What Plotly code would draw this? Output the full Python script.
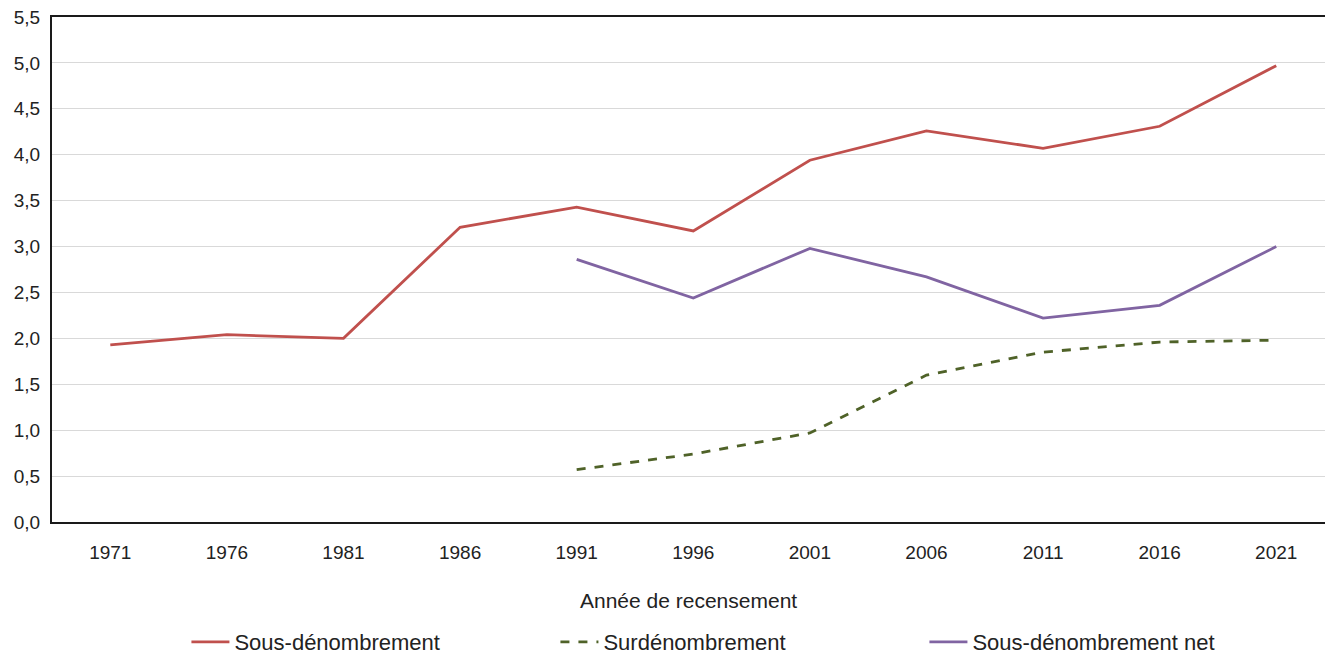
import plotly.graph_objects as go

years = ["1971", "1976", "1981", "1986", "1991", "1996", "2001", "2006", "2011", "2016", "2021"]
sous = [1.93, 2.04, 2.00, 3.21, 3.43, 3.17, 3.94, 4.26, 4.07, 4.31, 4.97]
sur = [None, None, None, None, 0.57, 0.74, 0.97, 1.60, 1.85, 1.96, 1.98]
net = [None, None, None, None, 2.86, 2.44, 2.98, 2.67, 2.22, 2.36, 3.00]
y_ticks = [0, 0.5, 1, 1.5, 2, 2.5, 3, 3.5, 4, 4.5, 5, 5.5]

fig = go.Figure()
fig.add_trace(go.Scatter(x=years, y=sous, mode="lines", name="Sous-dénombrement",
                         line=dict(color="#C0504D", width=2.8)))
fig.add_trace(go.Scatter(x=years, y=sur, mode="lines", name="Surdénombrement",
                         line=dict(color="#4F6228", width=2.8, dash="dash")))
fig.add_trace(go.Scatter(x=years, y=net, mode="lines", name="Sous-dénombrement net",
                         line=dict(color="#8064A2", width=2.8)))

font_family = "Liberation Sans, Arial, sans-serif"
fig.update_layout(
    width=1325, height=655,
    margin=dict(l=52, r=0, t=17, b=133, autoexpand=False),
    paper_bgcolor="white", plot_bgcolor="white",
    separators=",.",
    font=dict(family=font_family, size=19, color="#222222"),
    showlegend=True,
    legend=dict(orientation="h", x=0.1056, xanchor="left", y=-0.2376, yanchor="middle",
                entrywidth=316, entrywidthmode="pixels", itemwidth=38,
                font=dict(size=22), tracegroupgap=0),
    xaxis=dict(type="category", range=[-0.5, 10.418], showgrid=False, automargin=False,
               showline=True, linecolor="#1a1a1a", linewidth=2, mirror=True,
               ticks="", ticklabelstandoff=12, tickfont=dict(size=19)),
    yaxis=dict(range=[0, 5.5], tickvals=y_ticks, tickformat=".1f", automargin=False,
               showgrid=True, gridcolor="#D9D9D9", gridwidth=1,
               showline=True, linecolor="#1a1a1a", linewidth=2,
               ticks="", ticklabelstandoff=6, zeroline=False, tickfont=dict(size=19)),
    annotations=[dict(text="Année de recensement", x=0.5, xref="paper", y=-0.1545, yref="paper",
                      xanchor="center", yanchor="middle", showarrow=False,
                      font=dict(size=21, color="#222222"))],
)

fig.write_html("out.html", config={"displayModeBar": False},
               post_script="document.body.style.margin='0';document.body.style.overflow='hidden';")
